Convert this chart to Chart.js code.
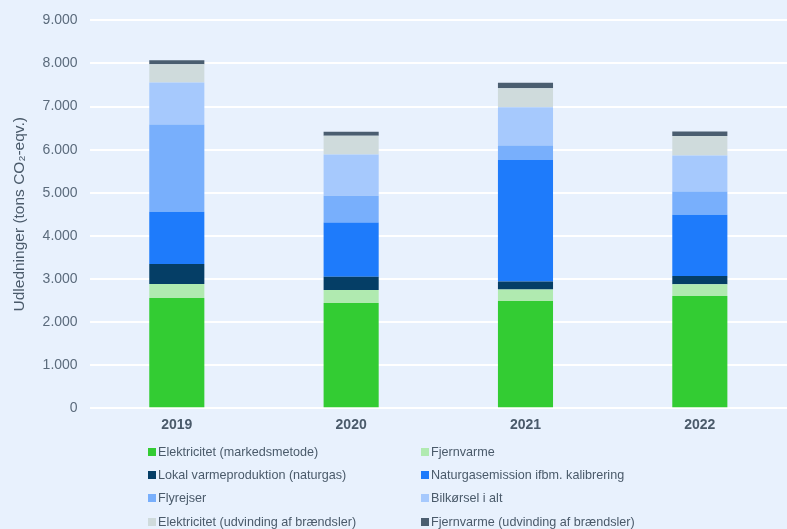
<!DOCTYPE html>
<html>
<head>
<meta charset="utf-8">
<script src="https://cdn.jsdelivr.net/npm/chart.js@4/dist/chart.umd.min.js"></script>
<style>
  html, body { margin: 0; padding: 0; background: #e8f1fd; }
  #wrap { position: relative; width: 787px; height: 529px; background: #e8f1fd; font-family: "Liberation Sans", Arial, sans-serif; }
  #c { position: absolute; left: 0; top: 0; }
  #legend { position: absolute; left: 148px; top: 440px; display: grid; grid-template-columns: 273px 300px; row-gap: 0; }
  .li { display: flex; align-items: center; height: 23.3px; font-size: 12.6px; color: #4a5a6a; white-space: nowrap; }
  .sw { width: 8px; height: 8px; margin-right: 2px; flex: none; }
</style>
</head>
<body>
<div id="wrap">
  <canvas id="c" width="787" height="529"></canvas>
  <div id="legend"></div>
</div>
<script>
const categories = ["2019", "2020", "2021", "2022"];
const seriesNames = [
  "Elektricitet (markedsmetode)",
  "Fjernvarme",
  "Lokal varmeproduktion (naturgas)",
  "Naturgasemission ifbm. kalibrering",
  "Flyrejser",
  "Bilkørsel i alt",
  "Elektricitet (udvinding af brændsler)",
  "Fjernvarme (udvinding af brændsler)"
];
const elMarked   = [2560, 2440, 2490, 2605];
const fjernvarme = [320, 302, 263, 272];
const lokalVarme = [465, 309, 186, 193];
const naturgasKal = [1216, 1256, 2823, 1418];
const flyrejser  = [2023, 621, 333, 542];
const bilkorsel  = [977, 961, 891, 837];
const elUdv      = [419, 435, 442, 452];
const fjUdv      = [93, 93, 125, 100];
const yTicks = [0, 1000, 2000, 3000, 4000, 5000, 6000, 7000, 8000, 9000];

const seriesValues = [elMarked, fjernvarme, lokalVarme, naturgasKal, flyrejser, bilkorsel, elUdv, fjUdv];
const colors = ["#33cc33", "#b0eab0", "#053e66", "#1e7bfb", "#78affc", "#a6c9fd", "#cfdbdc", "#4b5e70"];

function fmt(v) {
  return String(v).replace(/\B(?=(\d{3})+(?!\d))/g, ".");
}

const datasets = seriesNames.map((n, i) => ({
  label: n,
  data: seriesValues[i],
  backgroundColor: colors[i],
  borderWidth: 0,
  categoryPercentage: 1.0,
  barPercentage: 0.316
}));

new Chart(document.getElementById("c"), {
  type: "bar",
  data: { labels: categories, datasets },
  options: {
    responsive: false,
    animation: false,
    maintainAspectRatio: false,
    layout: { padding: { top: 12, right: 0, bottom: 86, left: 10 } },
    plugins: { legend: { display: false }, tooltip: { enabled: false } },
    scales: {
      x: {
        stacked: true,
        grid: { display: false, drawTicks: false },
        border: { display: false },
        ticks: { color: "#4a5a6a", font: { family: "Liberation Sans", size: 14, weight: "bold" }, padding: 9 }
      },
      y: {
        stacked: true,
        min: 0,
        max: 9000,
        afterBuildTicks: (axis) => { axis.ticks = yTicks.map(v => ({ value: v })); },
        grid: { color: "#ffffff", lineWidth: 2, drawTicks: false },
        border: { display: false },
        ticks: { color: "#5b6b7c", font: { family: "Liberation Sans", size: 14 }, padding: 12, callback: (v) => fmt(v) },
        title: { display: true, text: "Udledninger (tons CO₂-eqv.)", color: "#4a5a6a", font: { family: "Liberation Sans", size: 15.5 }, padding: { top: 0, bottom: 2 } }
      }
    }
  }
});

const leg = document.getElementById("legend");
seriesNames.forEach((n, i) => {
  const d = document.createElement("div");
  d.className = "li";
  d.innerHTML = '<span class="sw" style="background:' + colors[i] + '"></span><span></span>';
  d.lastChild.textContent = n;
  leg.appendChild(d);
});
</script>
</body>
</html>
